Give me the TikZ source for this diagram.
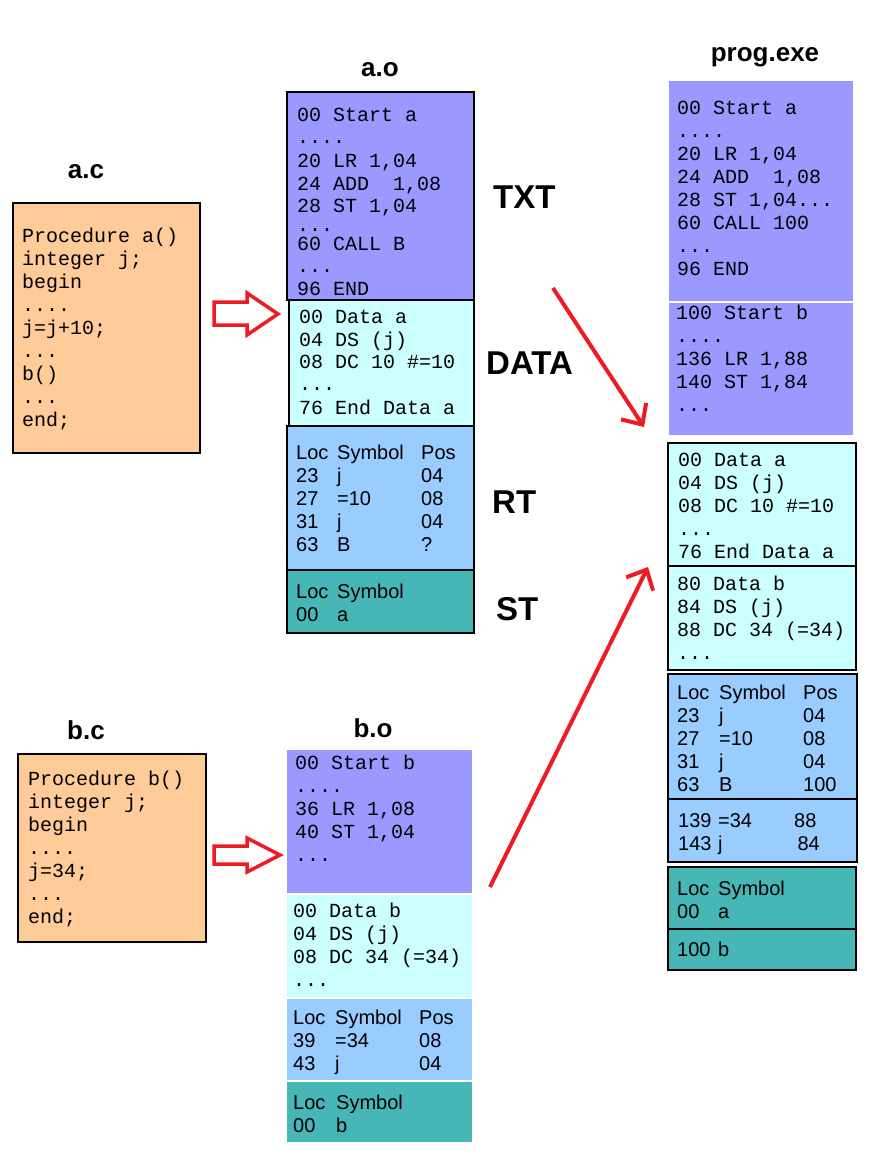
\documentclass[tikz,border=0pt]{standalone}
\usepackage{fontspec}
\setmainfont{Liberation Sans}
\newfontfamily\codefont{Liberation Mono}
\usetikzlibrary{arrows.meta}
\definecolor{peach}{HTML}{FFCC99}
\definecolor{txtc}{HTML}{9999FF}
\definecolor{datac}{HTML}{CCFFFF}
\definecolor{rtc}{HTML}{99CCFF}
\definecolor{stc}{HTML}{46B6B6}
\definecolor{redc}{HTML}{ED1C24}
\tikzset{
 blk/.style={anchor=north west, inner sep=0pt, outer sep=0pt, line width=1.3pt},
 code/.style={anchor=base west, inner sep=0pt, font=\codefont\fontsize{20}{23}\selectfont},
 sans/.style={anchor=base west, inner sep=0pt, font=\fontsize{20}{23}\selectfont},
 title/.style={anchor=base, inner sep=0pt, font=\bfseries\fontsize{26}{30}\selectfont},
 seg/.style={anchor=base west, inner sep=0pt, font=\bfseries\fontsize{33}{38}\selectfont},
 hollow/.style={draw=redc, line width=3.5pt, fill=white, line join=miter},
 link/.style={draw=redc, line width=4pt, -{Straight Barb[length=16pt,width=30pt]}},
}
\begin{document}
\begin{tikzpicture}[x=1pt,y=-1pt]
\fill[white] (0,0) rectangle (896,1159);
\useasboundingbox (0,0) rectangle (896,1159);

% ---------- titles ----------
\node[title] (tac) at (86,178) {a.c};
\node[title] (tao) at (380,76) {a.o};
\node[title] (tpe) at (765,61) {prog.exe};
\node[title] (tbc) at (86,739) {b.c};
\node[title] (tbo) at (373,737) {b.o};

% ---------- segment labels ----------
\node[seg] (lTXT) at (493,208) {TXT};
\node[seg] (lDATA) at (486,374) {DATA};
\node[seg] (lRT) at (492,513) {RT};
\node[seg] (lST) at (496,620) {ST};

% ---------- source boxes ----------
\node[blk, draw=black, fill=peach, minimum width=187pt, minimum height=250pt] (ac) at (13,203) {};
\node[blk, draw=black, fill=peach, minimum width=188pt, minimum height=188pt] (bc) at (18,754) {};

% ---------- a.o ----------
\node[blk, draw=black, fill=txtc, minimum width=187pt, minimum height=208pt] (aoT) at (287,92) {};
\node[blk, draw=black, fill=datac, minimum width=185pt, minimum height=126pt] (aoD) at (289,300) {};
\node[blk, draw=black, fill=rtc, minimum width=187pt, minimum height=144pt] (aoR) at (287,426) {};
\node[blk, draw=black, fill=stc, minimum width=187pt, minimum height=63pt] (aoS) at (287,570) {};

% ---------- b.o ----------
\node[blk, draw=white, fill=txtc, minimum width=187pt, minimum height=145pt] (boT) at (286,749) {};
\node[blk, draw=white, fill=datac, minimum width=187pt, minimum height=104pt] (boD) at (286,894) {};
\node[blk, draw=white, fill=rtc, minimum width=187pt, minimum height=83pt] (boR) at (286,998) {};
\node[blk, draw=white, fill=stc, minimum width=187pt, minimum height=62pt] (boS) at (286,1081) {};

% ---------- prog.exe ----------
\node[blk, draw=white, fill=txtc, minimum width=186pt, minimum height=222pt] (peT1) at (668,80) {};
\node[blk, draw=white, fill=txtc, minimum width=186pt, minimum height=134pt] (peT2) at (668,302) {};
\node[blk, draw=black, fill=datac, minimum width=188pt, minimum height=123pt] (peDa) at (668,443) {};
\node[blk, draw=black, fill=datac, minimum width=188pt, minimum height=104pt] (peDb) at (668,566) {};
\node[blk, draw=black, fill=rtc, minimum width=189pt, minimum height=125pt] (peRa) at (668,674) {};
\node[blk, draw=black, fill=rtc, minimum width=189pt, minimum height=63pt] (peRb) at (668,799) {};
\node[blk, draw=black, fill=stc, minimum width=188pt, minimum height=62pt] (peSa) at (668,867) {};
\node[blk, draw=black, fill=stc, minimum width=188pt, minimum height=41pt] (peSb) at (668,929) {};

% ---------- text: a.c ----------
\foreach \py/\ptext [count=\i] in {242/{Procedure a()},265/{integer j;},288/{begin},311/{....},334/{j=j+10;},357/{...},380/{b()},403/{...},426/{end;}}
  {\node[code] (acL\i) at (22,\py) {\ptext};}
% ---------- text: b.c ----------
\foreach \py/\ptext [count=\i] in {785/{Procedure b()},808/{integer j;},831/{begin},854/{....},877/{j=34;},900/{...},923/{end;}}
  {\node[code] (bcL\i) at (28,\py) {\ptext};}

% ---------- text: a.o ----------
\foreach \py/\ptext [count=\i] in {121/{00 Start a},143/{....},167/{20 LR 1,04},190/{24 ADD~~1,08},212/{28 ST 1,04},231/{...},250/{60 CALL B},272/{...},295/{96 END}}
  {\node[code] (aoTL\i) at (297,\py) {\ptext};}
\foreach \py/\ptext [count=\i] in {323/{00 Data a},346/{04 DS (j)},368/{08 DC 10 \#=10},390/{...},414/{76 End Data a}}
  {\node[code] (aoDL\i) at (299,\py) {\ptext};}
\foreach \py/\pa/\pb/\pc [count=\i] in {459/Loc/Symbol/Pos,482/23/j/04,505/27/=10/08,528/31/j/04,551/63/B/?}
  {\node[sans] (aoRL\i) at (296,\py) {\makebox[41pt][l]{\pa}\makebox[84pt][l]{\pb}\pc};}
\foreach \py/\pa/\pb [count=\i] in {598/Loc/Symbol,621/00/a}
  {\node[sans] (aoSL\i) at (296,\py) {\makebox[41pt][l]{\pa}\pb};}

% ---------- text: b.o ----------
\foreach \py/\ptext [count=\i] in {769/{00 Start b},792/{....},815/{36 LR 1,08},838/{40 ST 1,04},861/{...}}
  {\node[code] (boTL\i) at (295,\py) {\ptext};}
\foreach \py/\ptext [count=\i] in {917/{00 Data b},940/{04 DS (j)},963/{08 DC 34 (=34)},986/{...}}
  {\node[code] (boDL\i) at (293,\py) {\ptext};}
\foreach \py/\pa/\pb/\pc [count=\i] in {1024/Loc/Symbol/Pos,1047/39/=34/08,1070/43/j/04}
  {\node[sans] (boRL\i) at (293,\py) {\makebox[42pt][l]{\pa}\makebox[84pt][l]{\pb}\pc};}
\foreach \py/\pa/\pb [count=\i] in {1109/Loc/Symbol,1132/00/b}
  {\node[sans] (boSL\i) at (293,\py) {\makebox[43pt][l]{\pa}\pb};}

% ---------- text: prog.exe ----------
\foreach \py/\ptext [count=\i] in {114/{00 Start a},137/{....},160/{20 LR 1,04},183/{24 ADD~~1,08},206/{28 ST 1,04...},229/{60 CALL 100},252/{...},275/{96 END}}
  {\node[code] (peT1L\i) at (677,\py) {\ptext};}
\foreach \py/\ptext [count=\i] in {319/{100 Start b},342/{....},365/{136 LR 1,88},388/{140 ST 1,84},411/{...}}
  {\node[code] (peT2L\i) at (676,\py) {\ptext};}
\foreach \py/\ptext [count=\i] in {466/{00 Data a},489/{04 DS (j)},512/{08 DC 10 \#=10},535/{...},558/{76 End Data a}}
  {\node[code] (peDaL\i) at (678,\py) {\ptext};}
\foreach \py/\ptext [count=\i] in {590/{80 Data b},613/{84 DS (j)},636/{88 DC 34 (=34)},659/{...}}
  {\node[code] (peDbL\i) at (677,\py) {\ptext};}
\foreach \py/\pa/\pb/\pc [count=\i] in {699/Loc/Symbol/Pos,722/23/j/04,745/27/=10/08,768/31/j/04,791/63/B/100}
  {\node[sans] (peRaL\i) at (677,\py) {\makebox[42pt][l]{\pa}\makebox[84pt][l]{\pb}\pc};}
\foreach \py/\pa/\pb/\pc [count=\i] in {827/139/=34/88,850/143/j/{\,84}}
  {\node[sans] (peRbL\i) at (678,\py) {\makebox[40pt][l]{\pa}\makebox[76pt][l]{\pb}\pc};}
\foreach \py/\pa/\pb [count=\i] in {895/Loc/Symbol,918/00/a}
  {\node[sans] (peSaL\i) at (677,\py) {\makebox[41pt][l]{\pa}\pb};}
\node[sans] (peSbL1) at (677,956) {\makebox[41pt][l]{100}b};

% ---------- hollow compile arrows ----------
\coordinate (hA) at (214,302);
\draw[hollow] (hA) -- ++(33,0) -- ++(0,-9) -- ++(31,21) -- ++(-31,21) -- ++(0,-10) -- ++(-33,0) -- cycle;
\coordinate (hB) at (214,846);
\draw[hollow] (hB) -- ++(33,0) -- ++(0,-8) -- ++(33,17) -- ++(-33,17) -- ++(0,-8) -- ++(-33,0) -- cycle;

% ---------- link arrows ----------
\coordinate (l1s) at (553,288);
\coordinate (l1e) at (644,427);
\coordinate (l2s) at (490,887);
\coordinate (l2e) at (648,567);
\draw[link] (l1s) -- (l1e);
\draw[link] (l2s) -- (l2e);
\end{tikzpicture}
\end{document}
